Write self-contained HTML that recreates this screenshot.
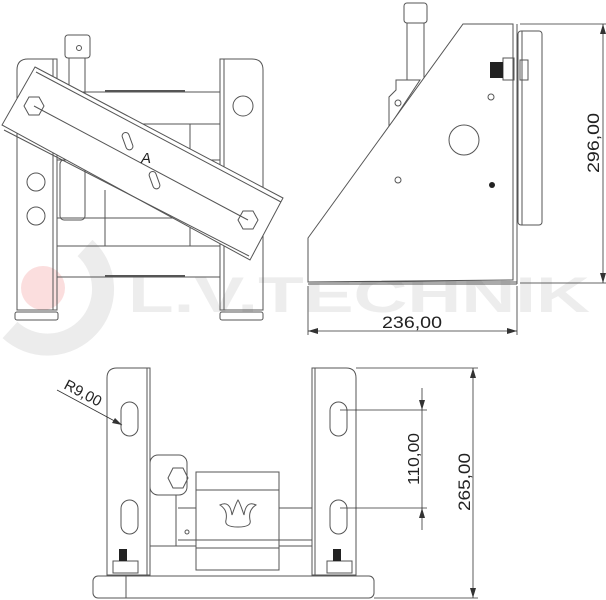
<!DOCTYPE html>
<html><head><meta charset="utf-8"><style>
html,body{margin:0;padding:0;background:#fff;width:606px;height:600px;overflow:hidden}
svg{display:block}
text{font-family:"Liberation Sans",sans-serif;fill:#222}
</style></head><body>
<svg width="606" height="600" viewBox="0 0 606 600" xmlns="http://www.w3.org/2000/svg">
<!-- watermark -->
<path d="M85,248 A45,45 0 1 1 10,330" fill="none" stroke="#ececec" stroke-width="22"/>
<circle cx="43" cy="288" r="22" fill="#fbdede"/>
<text x="128" y="312" font-size="50" font-weight="bold" style="fill:#ededed" textLength="462" lengthAdjust="spacingAndGlyphs">L.V.TECHNIK</text>

<g fill="none" stroke="#555" stroke-width="1">
<!-- TOP LEFT VIEW -->
<rect x="65" y="35" width="25" height="23" rx="3"/>
<circle cx="79" cy="48" r="2.5"/>
<line x1="69" y1="58" x2="69" y2="95"/><line x1="85" y1="58" x2="85" y2="95"/>
<path d="M17,310 V70 Q17,59 28,59 H57 V310 Z"/>
<line x1="53" y1="59" x2="53" y2="310"/>
<path d="M220,310 V59 H252 Q263,59 263,70 V310 Z"/>
<line x1="224" y1="59" x2="224" y2="310"/>
<line x1="57" y1="92" x2="220" y2="92"/>
<line x1="105" y1="91" x2="185" y2="91" stroke-width="2"/>
<line x1="57" y1="124" x2="220" y2="124"/>
<line x1="57" y1="160" x2="220" y2="160"/>
<line x1="57" y1="218" x2="220" y2="218"/>
<line x1="57" y1="246" x2="220" y2="246"/>
<line x1="57" y1="277" x2="220" y2="277"/>
<line x1="105" y1="276" x2="185" y2="276" stroke-width="2"/>
<line x1="105" y1="190" x2="105" y2="246"/>
<line x1="190" y1="124" x2="190" y2="246"/>
<rect x="60" y="160" width="25" height="60" rx="4"/>
<circle cx="36" cy="182" r="9"/><circle cx="36" cy="216" r="9"/>
<circle cx="243" cy="106" r="10"/>
<rect x="15" y="312" width="43" height="8" rx="2"/>
<rect x="220" y="312" width="43" height="8" rx="2"/>
<polygon points="35,67 283,198 250,260 2,125" fill="#fff"/>
<line x1="36" y1="72" x2="281" y2="202"/>
<line x1="4" y1="130" x2="249" y2="256"/>
<line x1="34" y1="106" x2="248" y2="220"/>
<polygon points="24,106 29,97 39,97 44,106 39,115 29,115"/>
<polygon points="238,220 243,211 253,211 258,220 253,229 243,229"/>
<rect x="124" y="132" width="7" height="18" rx="3.5" transform="rotate(-20 128 141)"/>
<rect x="151" y="171" width="7" height="18" rx="3.5" transform="rotate(-20 155 180)"/>

<!-- RIGHT VIEW -->
<rect x="404" y="3" width="23" height="20" rx="3"/>
<line x1="407" y1="23" x2="407" y2="80"/><line x1="424" y1="23" x2="424" y2="80"/>
<path d="M396,80 H420 L389,127 V97 L396,90 Z"/>
<circle cx="398" cy="103" r="3"/>
<polygon points="463,24 513,24 513,280 308,282 308,238" fill="#fff"/>
<line x1="308" y1="282" x2="517" y2="282"/>
<line x1="308" y1="284" x2="517" y2="284"/>
<line x1="517" y1="24" x2="517" y2="284"/>
<rect x="518" y="31" width="24" height="194" rx="3"/>
<line x1="522" y1="31" x2="522" y2="225"/>
<rect x="503" y="58" width="11" height="22"/>
<rect x="520" y="60" width="8" height="20"/>
<circle cx="491" cy="97" r="3"/>
<circle cx="464" cy="140" r="15"/>
<circle cx="398" cy="180" r="3"/>

<!-- BOTTOM VIEW -->
<path d="M107,575 V378 Q107,368 117,368 H150 V575 Z"/>
<line x1="147" y1="368" x2="147" y2="575"/>
<path d="M312,575 V368 H346 Q356,368 356,378 V575 Z"/>
<line x1="315" y1="368" x2="315" y2="575"/>
<rect x="121" y="402" width="17" height="34" rx="8.5"/>
<rect x="121" y="500" width="17" height="34" rx="8.5"/>
<rect x="330" y="402" width="17" height="34" rx="8.5"/>
<rect x="330" y="500" width="17" height="34" rx="8.5"/>
<rect x="150" y="455" width="37" height="40" rx="8"/>
<polygon points="168,478 173,468 183,468 188,478 183,488 173,488"/>
<line x1="150" y1="495" x2="150" y2="546"/><line x1="176" y1="495" x2="176" y2="546"/>
<line x1="150" y1="546" x2="312" y2="546"/>
<line x1="178" y1="508" x2="312" y2="508"/><line x1="178" y1="540" x2="312" y2="540"/>
<circle cx="187" cy="532" r="2"/>
<rect x="196" y="472" width="83" height="98" fill="#fff"/>
<line x1="196" y1="490" x2="279" y2="490"/>
<line x1="196" y1="540" x2="279" y2="540"/>
<line x1="196" y1="548" x2="279" y2="548"/>
<path d="M220,505 Q230,500 232,515 Q236,503 238,500 Q240,503 244,515 Q246,500 256,505 Q248,510 250,520 Q252,527 238,527 Q224,527 226,520 Q228,510 220,505 Z"/>
<rect x="93" y="576" width="281" height="22" rx="5"/>
<line x1="126" y1="576" x2="126" y2="598"/>
<rect x="113" y="561" width="25" height="12"/>
<rect x="327" y="561" width="25" height="12"/>
</g>
<rect x="490" y="62" width="13" height="16" fill="#222"/>
<circle cx="492" cy="185" r="3" fill="#222"/>
<rect x="119" y="549" width="8" height="12" fill="#222"/>
<rect x="333" y="549" width="8" height="12" fill="#222"/>

<!-- dimensions -->
<g stroke="#333" stroke-width="0.8" fill="none">
<line x1="520" y1="24" x2="606" y2="24"/>
<line x1="520" y1="283" x2="606" y2="283"/>
<line x1="603" y1="24" x2="603" y2="283"/>
<line x1="308" y1="286" x2="308" y2="335"/>
<line x1="517" y1="286" x2="517" y2="335"/>
<line x1="308" y1="331" x2="517" y2="331"/>
<line x1="340" y1="410" x2="427" y2="410"/>
<line x1="340" y1="508" x2="427" y2="508"/>
<line x1="422" y1="388" x2="422" y2="530"/>
<line x1="356" y1="368" x2="478" y2="368"/>
<line x1="374" y1="598" x2="478" y2="598"/>
<line x1="473" y1="368" x2="473" y2="598"/>
<line x1="57" y1="390" x2="122" y2="425"/>
</g>
<g fill="#333">
<polygon points="603,24 600,34 606,34"/><polygon points="603,283 600,273 606,273"/>
<polygon points="308,331 318,328 318,334"/><polygon points="517,331 507,328 507,334"/>
<polygon points="422,410 419,400 425,400"/><polygon points="422,508 419,518 425,518"/>
<polygon points="473,368 470,378 476,378"/><polygon points="473,598 470,588 476,588"/>
<polygon points="122,425 112,423 115,418"/>
</g>
<text x="146" y="163" font-size="15" font-style="italic" text-anchor="middle">A</text>
<text x="412" y="328" font-size="17" text-anchor="middle" textLength="60" lengthAdjust="spacingAndGlyphs">236,00</text>
<text transform="translate(599,143) rotate(-90)" font-size="17" text-anchor="middle" textLength="60" lengthAdjust="spacingAndGlyphs">296,00</text>
<text transform="translate(419,459) rotate(-90)" font-size="16" text-anchor="middle" textLength="52" lengthAdjust="spacingAndGlyphs">110,00</text>
<text transform="translate(470,482) rotate(-90)" font-size="17" text-anchor="middle" textLength="58" lengthAdjust="spacingAndGlyphs">265,00</text>
<text transform="translate(63,388) rotate(28)" font-size="15">R9,00</text>
</svg>
</body></html>
